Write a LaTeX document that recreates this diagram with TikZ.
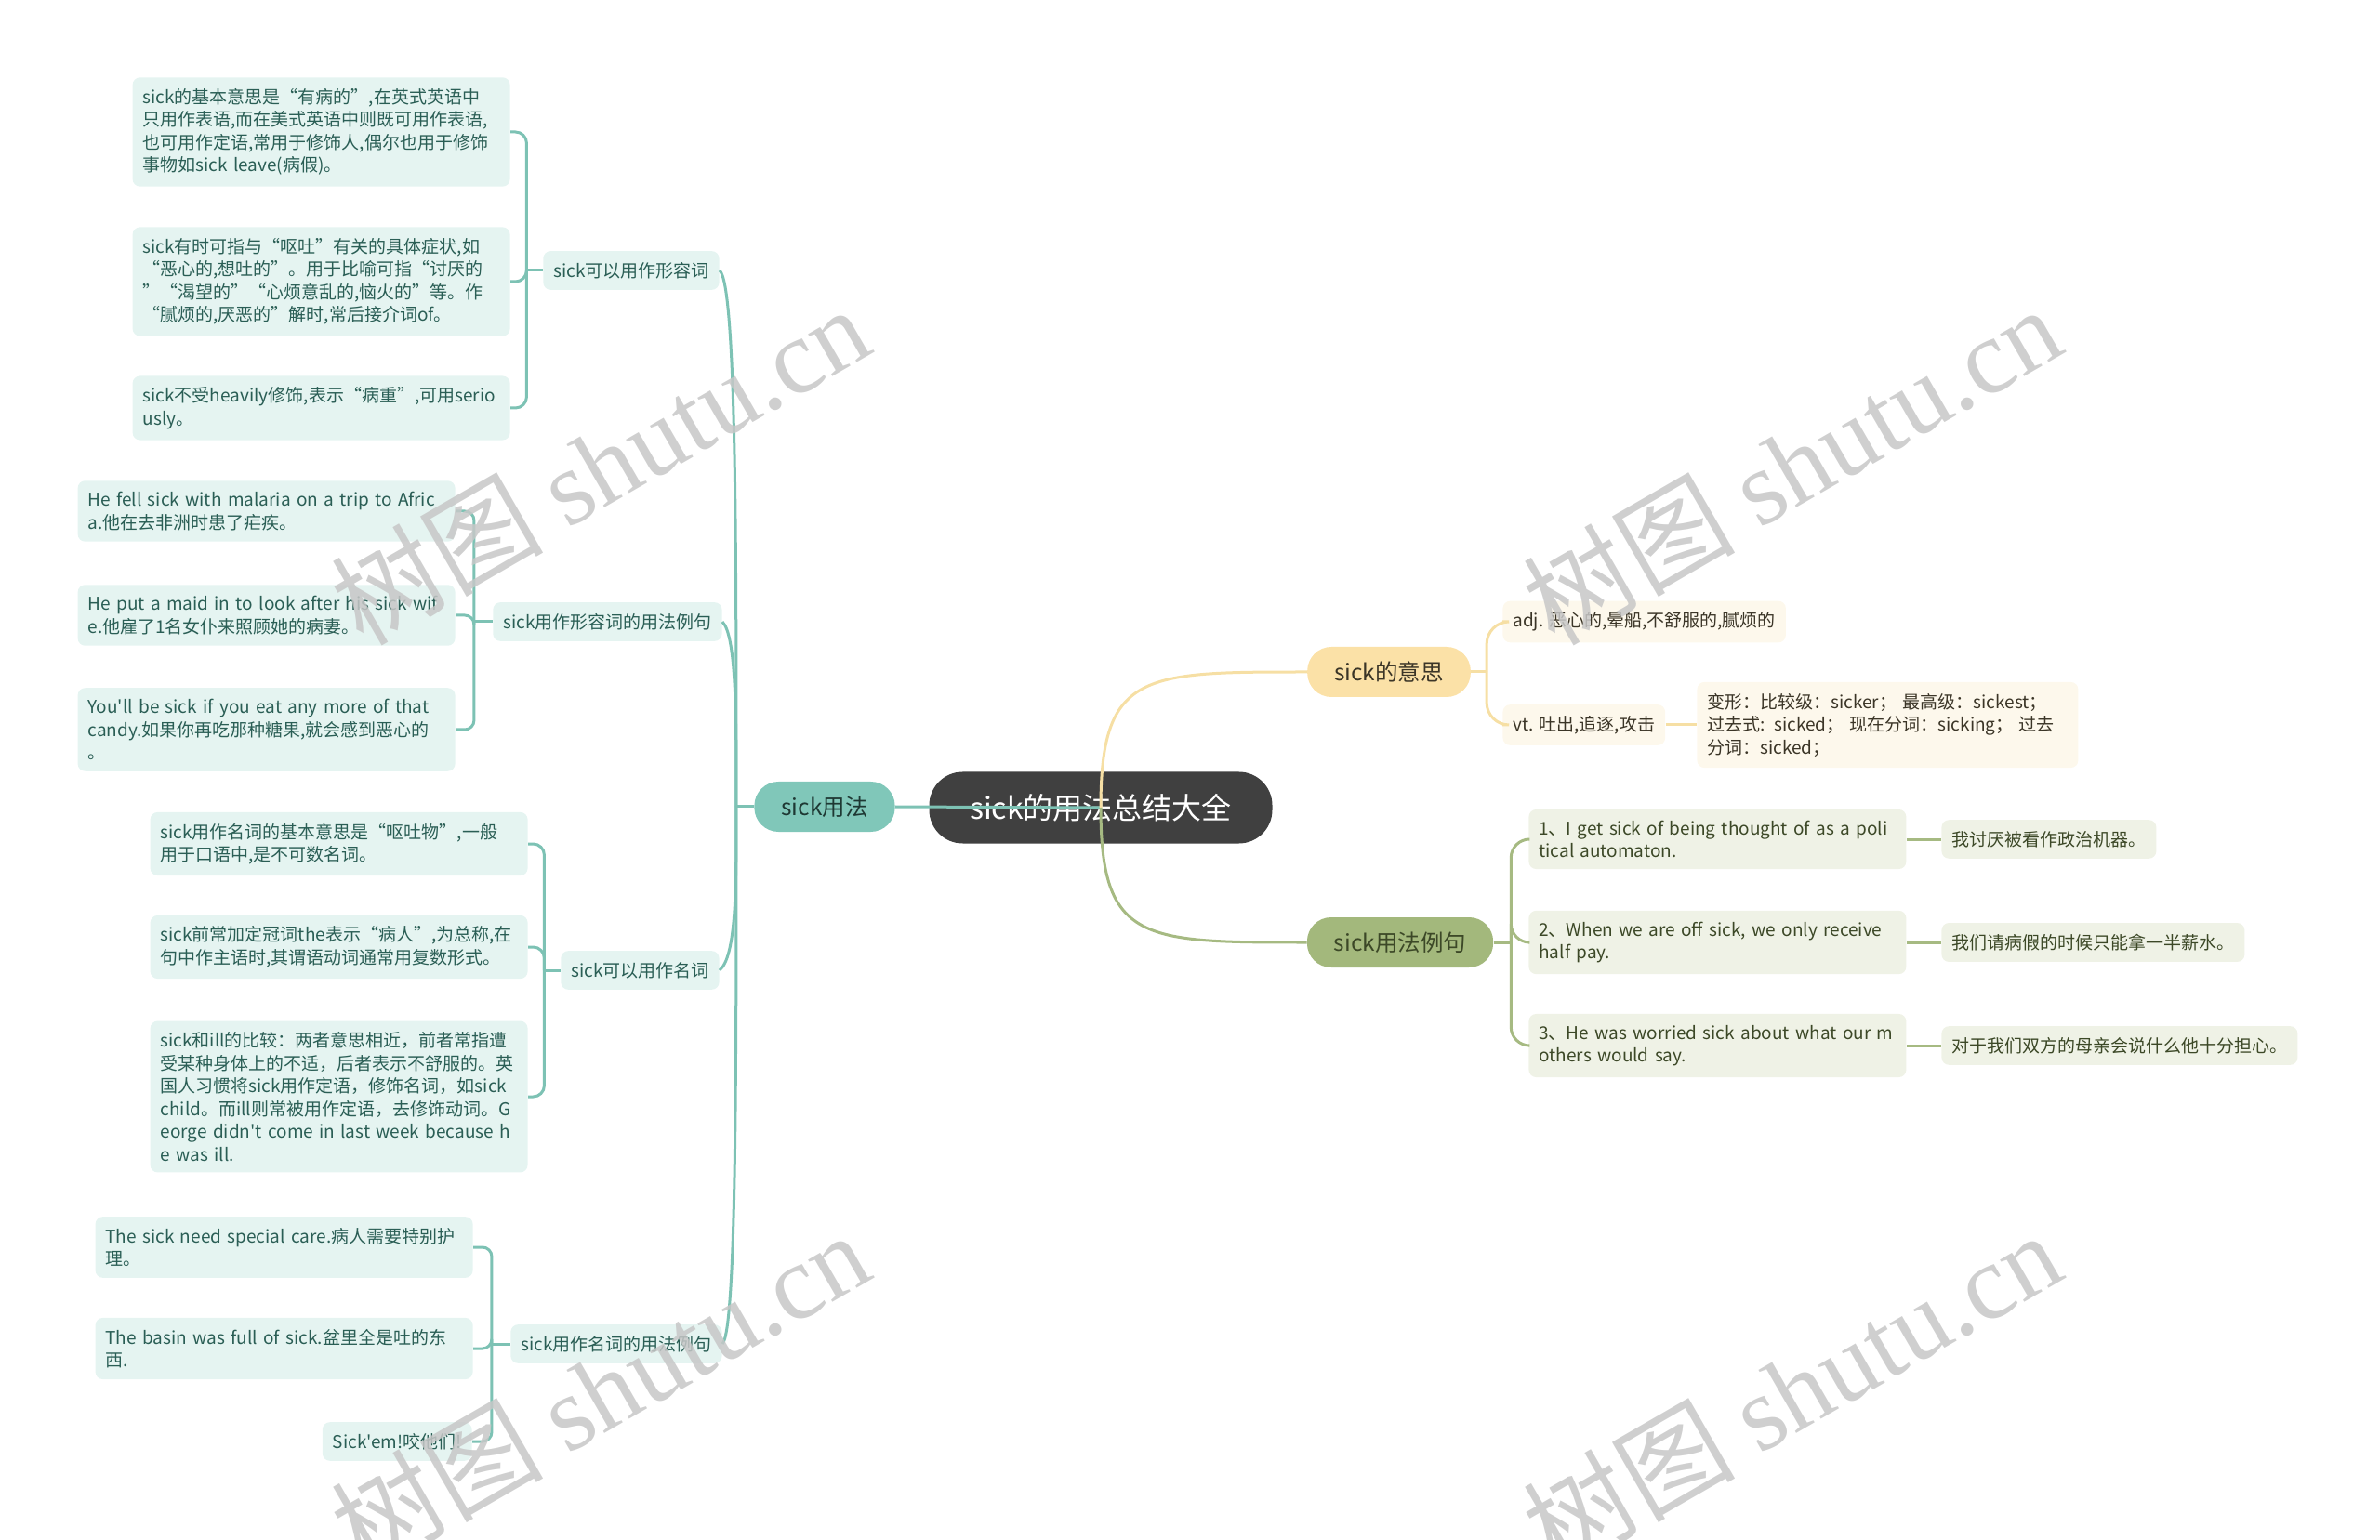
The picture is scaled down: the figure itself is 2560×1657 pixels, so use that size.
\documentclass[tikz,border=0pt]{standalone}
\usepackage{fontspec}
\setmainfont{Noto Sans CJK SC}[Ligatures=TeXOff]
\newfontfamily\wmserif{Liberation Serif}
\usepackage{tikz}
\usetikzlibrary{positioning,calc}
\definecolor{ctRoot}{HTML}{404040}
\definecolor{ctTeal}{HTML}{80C7B9}
\definecolor{ctTealLn}{HTML}{7DC2B4}
\definecolor{ctTealLt}{HTML}{E5F4F1}
\definecolor{ctTealTx}{HTML}{2A5E55}
\definecolor{ctTealDk}{HTML}{1E3833}
\definecolor{ctSand}{HTML}{FBE1A7}
\definecolor{ctSandLn}{HTML}{F6DFA4}
\definecolor{ctSandLt}{HTML}{FDF8EC}
\definecolor{ctSandTx}{HTML}{3B3527}
\definecolor{ctOlive}{HTML}{A3B87C}
\definecolor{ctOliveLn}{HTML}{A6BA82}
\definecolor{ctOliveLt}{HTML}{EFF2E6}
\definecolor{ctOliveTx}{HTML}{3C4827}

\begin{document}
\begin{tikzpicture}[x=0.5pt,y=-0.5pt,
  every node/.style={font=\fontsize{9.5}{12.25}\selectfont},
  rootbox/.style={fill=ctRoot,text=white,rounded corners=18pt,minimum width=184.5pt,minimum height=38.5pt,font=\fontsize{16}{19}\selectfont},
  mainbox/.style={rounded corners=13pt,minimum height=27pt,inner xsep=14.5pt,font=\fontsize{12.25}{15}\selectfont},
  leafbox/.style={rounded corners=4pt,inner xsep=5.5pt,inner ysep=6pt,align=left},
  tealbox/.style={leafbox,fill=ctTealLt,text=ctTealTx},
  sandbox/.style={leafbox,fill=ctSandLt,text=ctSandTx},
  olivebox/.style={leafbox,fill=ctOliveLt,text=ctOliveTx},
  tealln/.style={draw=ctTealLn,line width=1.5pt},
  sandln/.style={draw=ctSandLn,line width=1.5pt},
  oliveln/.style={draw=ctOliveLn,line width=1.5pt},
  wmark/.style={rotate=30,text=black!22,text opacity=0.85,font=\fontsize{57}{57}\selectfont}]
  \useasboundingbox (0,0) rectangle (2560,1657);

  % centre and main branches
  \node[rootbox] (root) at (1184,869) {sick的用法总结大全};
  \node[mainbox,fill=ctTeal,text=ctTealDk] (use) at (887,868) {sick用法};
  \node[mainbox,fill=ctSand,text=ctSandTx] (mean) at (1494,723) {sick的意思};
  \node[mainbox,fill=ctOlive,text=ctOliveTx] (exm) at (1506,1014) {sick用法例句};

  % left half
  \node[tealbox,anchor=east] (adj) at (774,291) {sick可以用作形容词};
  \node[tealbox,anchor=east] (adjex) at (777,669) {sick用作形容词的用法例句};
  \node[tealbox,anchor=east] (noun) at (774,1044) {sick可以用作名词};
  \node[tealbox,anchor=east] (nounex) at (777,1446) {sick用作名词的用法例句};

  \node[tealbox,text width=192pt,anchor=east] (adja) at (549,142) {sick的基本意思是“有病的”,在英式英语中\\只用作表语,而在美式英语中则既可用作表语,\\也可用作定语,常用于修饰人,偶尔也用于修饰\\事物如sick leave(病假)。};
  \node[tealbox,text width=192pt,anchor=east] (adjb) at (549,303) {sick有时可指与“呕吐”有关的具体症状,如\\“恶心的,想吐的”。用于比喻可指“讨厌的\\”“渴望的”“心烦意乱的,恼火的”等。作\\“腻烦的,厌恶的”解时,常后接介词of。};
  \node[tealbox,text width=192pt,anchor=east] (adjc) at (549,439) {sick不受heavily修饰,表示“病重”,可用serio\\usly。};

  \node[tealbox,text width=192pt,anchor=east] (adjexa) at (490,550) {He fell sick with malaria on a trip to Afric\\a.他在去非洲时患了疟疾。};
  \node[tealbox,text width=192pt,anchor=east] (adjexb) at (490,662) {He put a maid in to look after his sick wif\\e.他雇了1名女仆来照顾她的病妻。};
  \node[tealbox,text width=192pt,anchor=east] (adjexc) at (490,785) {You'll be sick if you eat any more of that\\candy.如果你再吃那种糖果,就会感到恶心的\\。};

  \node[tealbox,text width=192pt,anchor=east] (nouna) at (568,908) {sick用作名词的基本意思是“呕吐物”,一般\\用于口语中,是不可数名词。};
  \node[tealbox,text width=192pt,anchor=east] (nounb) at (568,1019) {sick前常加定冠词the表示“病人”,为总称,在\\句中作主语时,其谓语动词通常用复数形式。};
  \node[tealbox,text width=192pt,anchor=east] (nounc) at (568,1180) {sick和ill的比较：两者意思相近，前者常指遭\\受某种身体上的不适，后者表示不舒服的。英\\国人习惯将sick用作定语，修饰名词，如sick\\child。而ill则常被用作定语，去修饰动词。G\\eorge didn't come in last week because h\\e was ill.};

  \node[tealbox,text width=192pt,anchor=east] (nounexa) at (509,1342) {The sick need special care.病人需要特别护\\理。};
  \node[tealbox,text width=192pt,anchor=east] (nounexb) at (509,1451) {The basin was full of sick.盆里全是吐的东\\西.};
  \node[tealbox,anchor=east] (nounexc) at (508,1551) {Sick'em!咬他们!};

  % right half
  \node[sandbox,anchor=west] (meana) at (1616,669) {adj. 恶心的,晕船,不舒服的,腻烦的};
  \node[sandbox,anchor=west] (meanb) at (1616,780) {vt. 吐出,追逐,攻击};
  \node[sandbox,text width=194pt,anchor=west] (forms) at (1825,780) {变形：比较级：sicker； 最高级：sickest；\\过去式: sicked； 现在分词：sicking； 过去\\分词：sicked；};

  \node[olivebox,text width=192pt,anchor=west] (exa) at (1644,903) {1、I get sick of being thought of as a poli\\tical automaton.};
  \node[olivebox,text width=192pt,anchor=west] (exb) at (1644,1014) {2、When we are off sick, we only receive\\half pay.};
  \node[olivebox,text width=192pt,anchor=west] (exc) at (1644,1125) {3、He was worried sick about what our m\\others would say.};
  \node[olivebox,anchor=west] (tra) at (2088,903) {我讨厌被看作政治机器。};
  \node[olivebox,anchor=west] (trb) at (2088,1014) {我们请病假的时候只能拿一半薪水。};
  \node[olivebox,anchor=west] (trc) at (2088,1125) {对于我们双方的母亲会说什么他十分担心。};

  % connectors from the centre
  \draw[tealln] (root.center) -- (use.east);
  \draw[sandln] (root.center) .. controls (root.center |- mean.west) and ($(root.center |- mean.west)+(45,0)$) .. (mean.west);
  \draw[oliveln] (root.center) .. controls (root.center |- exm.west) and ($(root.center |- exm.west)+(45,0)$) .. (exm.west);

  % left spine
  \coordinate (hubL) at ($(use.west)+(-19,0)$);
  \draw[tealln] (use.west) -- (hubL);
  \foreach \kid/\dy in {adj/15,adjex/15,noun/-15,nounex/-15}
    \draw[tealln] (hubL) .. controls ($(hubL)!0.5!(hubL |- \kid.east)$) and ($(hubL |- \kid.east)+(0,\dy)$) .. (\kid.east);

  % brackets to the leaves
  \coordinate (jA) at ($(adj.west)!0.5!(adj.west -| adja.east)$);
  \coordinate (jB) at ($(adjex.west)!0.5!(adjex.west -| adjexa.east)$);
  \coordinate (jC) at ($(noun.west)!0.5!(noun.west -| nouna.east)$);
  \coordinate (jD) at ($(nounex.west)!0.5!(nounex.west -| nounexa.east)$);
  \draw[tealln] (adj.west) -- (jA);
  \draw[tealln] (adjex.west) -- (jB);
  \draw[tealln] (noun.west) -- (jC);
  \draw[tealln] (nounex.west) -- (jD);
  \foreach \kid in {adja,adjb,adjc} \draw[tealln,rounded corners=6pt] (jA) |- (\kid.east);
  \foreach \kid in {adjexa,adjexb,adjexc} \draw[tealln,rounded corners=5pt] (jB) |- (\kid.east);
  \foreach \kid in {nouna,nounb,nounc} \draw[tealln,rounded corners=6pt] (jC) |- (\kid.east);
  \foreach \kid in {nounexa,nounexb,nounexc} \draw[tealln,rounded corners=5pt] (jD) |- (\kid.east);

  \coordinate (jY) at ($(mean.east)!0.5!(mean.east -| meana.west)$);
  \draw[sandln] (mean.east) -- (jY);
  \foreach \kid in {meana,meanb} \draw[sandln,rounded corners=12pt] (jY) |- (\kid.west);
  \draw[sandln] (meanb.east) -- (forms.west);

  \coordinate (jG) at ($(exm.east)!0.5!(exm.east -| exa.west)$);
  \draw[oliveln] (exm.east) -- (jG);
  \foreach \kid in {exa,exb,exc} \draw[oliveln,rounded corners=10pt] (jG) |- (\kid.west);
  \draw[oliveln] (exa.east) -- (tra.west);
  \draw[oliveln] (exb.east) -- (trb.west);
  \draw[oliveln] (exc.east) -- (trc.west);

  % watermark
  \foreach \wx/\wy [count=\i] in {645/500,1927/500,645/1496,1927/1496}
    \node[wmark] (wm\i) at (\wx,\wy) {树图 {\wmserif shutu.cn}};
\end{tikzpicture}
\end{document}
